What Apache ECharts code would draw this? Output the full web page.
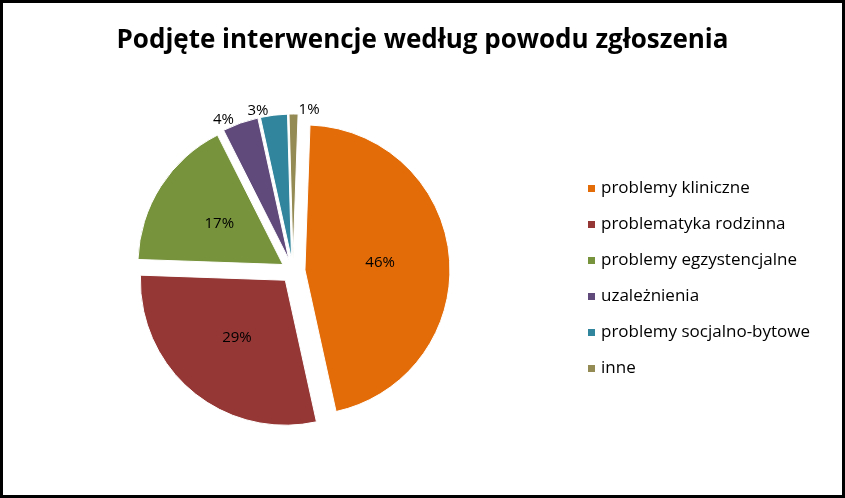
<!DOCTYPE html>
<html>
  <head>
    <meta charset="utf-8" />
    <title></title>
    <style type="text/css">
      html,
      body {
        margin: 0;
        width: 100%;
        height: 100%;
        background: #000;
      }
      #main {
        position: absolute;
        left: 3px;
        top: 3px;
        width: 839px;
        height: 492px;
        background: #fff;
      }
    </style>
  </head>
  <body>
    <div id="main"></div>
    <script src="https://cdn.jsdelivr.net/npm/echarts@6/dist/echarts.min.js"></script>
    <script type="text/javascript">
      var categories = [
        "problemy kliniczne",
        "problematyka rodzinna",
        "problemy egzystencjalne",
        "uzależnienia",
        "problemy socjalno-bytowe",
        "inne",
      ];
      var values = [46, 29, 17, 4, 3, 1];
      var colors = ["#E36C09", "#953735", "#77933C", "#604A7B", "#31859C", "#948A54"];

      var chart = echarts.init(document.getElementById("main"));

      var data = categories.map(function (name, i) {
        var item = { name: name, value: values[i], selected: true };
        // małe wycinki: etykieta nad wycinkiem
        if (values[i] < 10) {
          item.label = { position: "outside", distance: 8 };
          item.labelLine = { show: false };
        }
        return item;
      });

      chart.setOption({
        color: colors,
        animation: false,
        title: {
          text: "Podjęte interwencje według powodu zgłoszenia",
          left: "center",
          top: 20,
          textStyle: { fontFamily: "Open Sans", fontSize: 26, fontWeight: "bold", color: "#000" },
        },
        legend: {
          orient: "vertical",
          left: 578,
          top: 172,
          itemGap: 19,
          itemWidth: 9,
          itemHeight: 9,
          icon: "rect",
          textStyle: { fontFamily: "Open Sans", fontSize: 17, color: "#000" },
          data: categories,
        },
        series: [
          {
            type: "pie",
            center: [290, 268],
            radius: 145,
            startAngle: 88,
            selectedMode: "multiple",
            selectedOffset: 12,
            avoidLabelOverlap: false,
            data: data,
            label: {
              position: "inner",
              formatter: "{c}%",
              fontFamily: "Open Sans",
              fontSize: 15,
              color: "#000",
            },
            labelLine: { show: false, length: 4, length2: 0 },
            itemStyle: { borderColor: "#fff", borderWidth: 1 },
          },
        ],
      });
    </script>
  </body>
</html>
